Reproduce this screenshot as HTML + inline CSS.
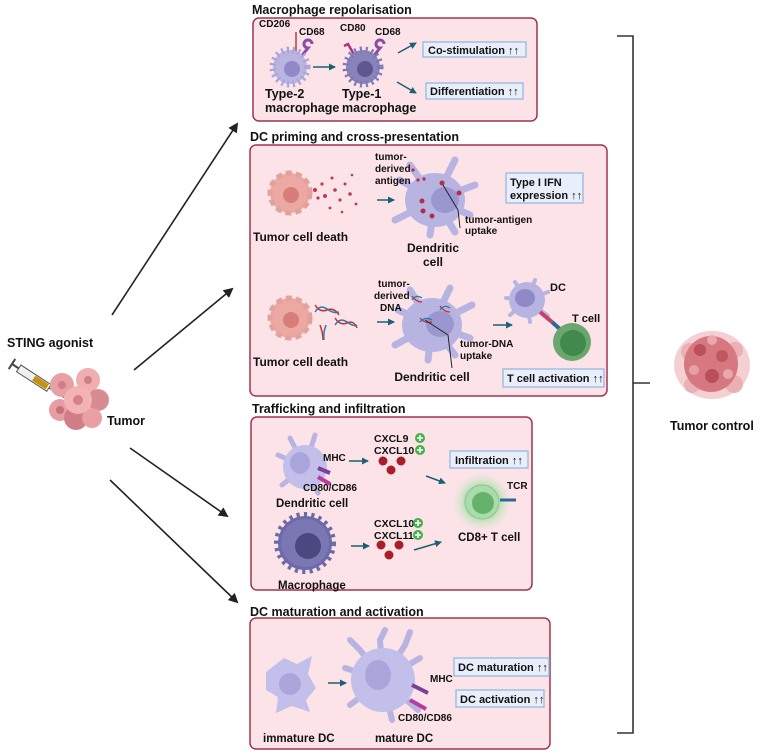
<!DOCTYPE html>
<html><head><meta charset="utf-8"><style>
html,body{margin:0;padding:0;background:#fff;}
svg{display:block;font-family:"Liberation Sans",Arial,sans-serif;font-weight:bold;}
</style></head><body>
<svg width="760" height="754" viewBox="0 0 760 754" xmlns="http://www.w3.org/2000/svg">
<defs>
<marker id="ah" markerWidth="10" markerHeight="10" refX="8" refY="5" orient="auto" markerUnits="userSpaceOnUse"><path d="M0,0 L10,5 L0,10 z" fill="#222"/></marker>
<marker id="ta" markerWidth="7" markerHeight="7" refX="6" refY="3.5" orient="auto" markerUnits="userSpaceOnUse"><path d="M0,0 L7,3.5 L0,7 z" fill="#1d5f73"/></marker>
<radialGradient id="glow"><stop offset="0.5" stop-color="#9bd89b" stop-opacity="0.8"/><stop offset="1" stop-color="#c8f0c8" stop-opacity="0"/></radialGradient>
</defs>

<g font-size="12.5" fill="#111">
<text x="252" y="14">Macrophage repolarisation</text>
<text x="250" y="141">DC priming and cross-presentation</text>
<text x="252" y="413">Trafficking and infiltration</text>
<text x="250" y="616">DC maturation and activation</text>
</g>

<g fill="#fce3e8" stroke="#a0344f" stroke-width="1.5">
<rect x="253" y="18" width="284" height="103" rx="6"/>
<rect x="250" y="145" width="357" height="251" rx="6"/>
<rect x="251" y="417" width="281" height="173" rx="6"/>
<rect x="250" y="618" width="300" height="131" rx="6"/>
</g>

<g fill="#e8eefa" stroke="#98b6e0" stroke-width="1.3">
<rect x="423" y="42" width="103" height="15"/>
<rect x="426" y="83" width="97" height="16"/>
<rect x="506" y="173" width="77" height="30"/>
<rect x="503" y="369" width="101" height="18"/>
<rect x="450" y="451" width="78" height="17"/>
<rect x="454" y="658" width="95" height="18"/>
<rect x="456" y="690" width="88" height="17"/>
</g>
<g font-size="11" fill="#111">
<text x="428" y="54">Co-stimulation ↑↑</text>
<text x="430" y="95">Differentiation ↑↑</text>
<text x="510" y="186">Type I IFN</text>
<text x="510" y="199">expression ↑↑</text>
<text x="507" y="382">T cell activation ↑↑</text>
<text x="455" y="464">Infiltration ↑↑</text>
<text x="458" y="671">DC maturation ↑↑</text>
<text x="460" y="703">DC activation ↑↑</text>
</g>

<line x1="296" y1="52" x2="296" y2="32" stroke="#b04040" stroke-width="1.5"/>
<path d="M300,58 L308,48 a4,4 0 1 1 4,-4" fill="none" stroke="#8b4aa8" stroke-width="3"/>
<circle cx="290" cy="67" r="17" fill="#b9b4e0" stroke="#a8a3d8" stroke-width="7" stroke-dasharray="2 3.5"/>
<circle cx="290" cy="67" r="14" fill="#b9b4e0"/>
<circle cx="292" cy="69" r="8" fill="#8f89c8"/>
<path d="M356,58 L348,44 l-4,2" fill="none" stroke="#b0307a" stroke-width="2.5"/>
<path d="M372,58 L380,48 a4,4 0 1 1 4,-4" fill="none" stroke="#8b4aa8" stroke-width="3"/>
<circle cx="363" cy="67" r="17" fill="#8884bb" stroke="#7d79b3" stroke-width="7" stroke-dasharray="2 3.5"/>
<circle cx="363" cy="67" r="14" fill="#8884bb"/>
<circle cx="365" cy="69" r="8" fill="#5d5890"/>
<g stroke="#1d5f73" stroke-width="1.5" marker-end="url(#ta)">
<line x1="313" y1="67" x2="335" y2="67"/>
<line x1="398" y1="53" x2="416" y2="43"/>
<line x1="397" y1="82" x2="416" y2="93"/>
</g>
<g font-size="10" fill="#111">
<text x="259" y="27">CD206</text><text x="299" y="35">CD68</text>
<text x="340" y="31">CD80</text><text x="375" y="35">CD68</text>
</g>
<g font-size="12.5" fill="#111">
<text x="265" y="98">Type-2</text><text x="265" y="112">macrophage</text>
<text x="342" y="98">Type-1</text><text x="342" y="112">macrophage</text>
</g>

<circle cx="290" cy="193" r="20" fill="#eca8a3" stroke="#e4a09a" stroke-width="5" stroke-dasharray="6 4"/>
<circle cx="291" cy="195" r="8" fill="#d97d7a"/>
<g fill="#c0394a">
<circle cx="315" cy="190" r="2"/><circle cx="322" cy="184" r="1.6"/><circle cx="325" cy="196" r="2"/><circle cx="332" cy="178" r="1.5"/><circle cx="335" cy="190" r="1.8"/><circle cx="340" cy="200" r="1.6"/><circle cx="345" cy="184" r="1.5"/><circle cx="350" cy="194" r="1.8"/><circle cx="356" cy="204" r="1.4"/><circle cx="330" cy="208" r="1.4"/><circle cx="318" cy="198" r="1.6"/><circle cx="352" cy="175" r="1.3"/><circle cx="342" cy="212" r="1.3"/>
</g>
<g stroke="#b7b4e2" stroke-width="7" stroke-linecap="round" fill="none">
<path d="M435,200 L410,165"/><path d="M435,200 L455,160"/><path d="M435,200 L475,185"/><path d="M435,200 L470,215"/><path d="M435,200 L395,220"/><path d="M435,200 L400,180"/><path d="M435,200 L430,235"/><path d="M435,200 L455,232"/>
</g>
<ellipse cx="435" cy="200" rx="30" ry="27" fill="#b7b4e2"/>
<ellipse cx="445" cy="200" rx="14" ry="13" fill="#9a96cf"/>
<g fill="#b52d45"><circle cx="442" cy="183" r="2.5"/><circle cx="422" cy="201" r="2.5"/><circle cx="423" cy="211" r="2.5"/><circle cx="432" cy="216" r="2.5"/><circle cx="459" cy="193" r="2.5"/><circle cx="413" cy="170" r="1.6"/><circle cx="418" cy="180" r="1.6"/><circle cx="424" cy="179" r="1.6"/></g>
<path d="M443,185 L458,210 L460,228" stroke="#222" fill="none" stroke-width="1"/>
<line x1="377" y1="200" x2="394" y2="200" stroke="#1d5f73" stroke-width="1.5" marker-end="url(#ta)"/>
<g font-size="10" fill="#111">
<text x="375" y="160">tumor-</text><text x="375" y="172">derived</text><text x="375" y="184">antigen</text>
<text x="465" y="223">tumor-antigen</text><text x="465" y="234">uptake</text>
</g>
<g font-size="12" fill="#111">
<text x="253" y="241">Tumor cell death</text>
<text x="433" y="252" text-anchor="middle">Dendritic</text><text x="433" y="266" text-anchor="middle">cell</text>
</g>

<circle cx="290" cy="318" r="20" fill="#eca8a3" stroke="#e4a09a" stroke-width="5" stroke-dasharray="6 4"/>
<circle cx="291" cy="320" r="8" fill="#d97d7a"/>
<g stroke-width="1.5" fill="none">
<path d="M315,305 q5,8 12,5 t12,5" stroke="#d0302a"/><path d="M315,312 q5,-8 12,-3 t12,3" stroke="#2a7ab0"/>
<path d="M335,318 q5,8 12,5 t10,5" stroke="#d0302a"/><path d="M335,325 q5,-8 12,-3 t10,3" stroke="#2a7ab0"/>
<path d="M320,325 q3,8 3,15" stroke="#d0302a"/><path d="M326,325 q-3,8 -2,15" stroke="#2a7ab0"/>
</g>
<g stroke="#b7b4e2" stroke-width="7" stroke-linecap="round" fill="none">
<path d="M432,325 L410,290"/><path d="M432,325 L450,288"/><path d="M432,325 L472,305"/><path d="M432,325 L470,338"/><path d="M432,325 L395,345"/><path d="M432,325 L398,310"/><path d="M432,325 L428,360"/><path d="M432,325 L455,355"/>
</g>
<ellipse cx="432" cy="325" rx="30" ry="27" fill="#b7b4e2"/>
<ellipse cx="440" cy="324" rx="14" ry="13" fill="#9a96cf"/>
<g stroke-width="1.3" fill="none">
<path d="M420,318 q5,6 12,4" stroke="#d0302a"/><path d="M420,322 q5,-6 12,-2" stroke="#2a7ab0"/>
<path d="M440,306 q4,6 10,6" stroke="#d0302a"/><path d="M440,310 q4,-6 10,-2" stroke="#2a7ab0"/>
<path d="M412,296 q4,6 10,6" stroke="#d0302a"/><path d="M412,300 q4,-6 10,-2" stroke="#2a7ab0"/>
</g>
<path d="M425,320 L448,335 L452,368" stroke="#222" fill="none" stroke-width="1"/>
<line x1="377" y1="322" x2="394" y2="322" stroke="#1d5f73" stroke-width="1.5" marker-end="url(#ta)"/>
<line x1="493" y1="325" x2="512" y2="325" stroke="#1d5f73" stroke-width="1.5" marker-end="url(#ta)"/>
<g font-size="10" fill="#111">
<text x="378" y="287">tumor-</text><text x="374" y="299">derived</text><text x="380" y="311">DNA</text>
<text x="460" y="347">tumor-DNA</text><text x="460" y="359">uptake</text>
</g>
<g font-size="12" fill="#111">
<text x="253" y="366">Tumor cell death</text>
<text x="432" y="381" text-anchor="middle">Dendritic cell</text>
</g>
<g stroke="#b7b4e2" stroke-width="4" stroke-linecap="round">
<line x1="527" y1="300" x2="515" y2="282"/><line x1="527" y1="300" x2="535" y2="280"/><line x1="527" y1="300" x2="548" y2="292"/><line x1="527" y1="300" x2="506" y2="298"/><line x1="527" y1="300" x2="510" y2="315"/><line x1="527" y1="300" x2="530" y2="322"/><line x1="527" y1="300" x2="548" y2="316"/>
</g>
<circle cx="527" cy="300" r="18" fill="#b7b4e2"/>
<ellipse cx="525" cy="298" rx="10" ry="9" fill="#8f8ac6"/>
<line x1="540" y1="312" x2="552" y2="322" stroke="#c8406a" stroke-width="4"/>
<line x1="552" y1="322" x2="562" y2="331" stroke="#2a6a9a" stroke-width="4"/>
<circle cx="572" cy="342" r="19" fill="#6aa66e"/>
<circle cx="573" cy="343" r="13" fill="#3f8a4c"/>
<g font-size="11" fill="#111"><text x="550" y="291">DC</text><text x="572" y="322">T cell</text></g>

<g stroke="#b7b4e2" stroke-width="5" stroke-linecap="round">
<line x1="305" y1="467" x2="290" y2="438"/><line x1="305" y1="467" x2="315" y2="435"/><line x1="305" y1="467" x2="278" y2="455"/><line x1="305" y1="467" x2="282" y2="485"/><line x1="305" y1="467" x2="318" y2="493"/>
</g>
<circle cx="305" cy="467" r="22" fill="#c2bfea"/>
<ellipse cx="300" cy="463" rx="10" ry="11" fill="#aaa6dc"/>
<line x1="318" y1="468" x2="330" y2="473" stroke="#7a3f9a" stroke-width="4"/>
<line x1="318" y1="477" x2="330" y2="484" stroke="#b83ba0" stroke-width="4"/>
<g font-size="10" fill="#111"><text x="323" y="461">MHC</text><text x="303" y="491">CD80/CD86</text></g>
<text x="276" y="507" font-size="11.5" fill="#111">Dendritic cell</text>
<circle cx="305" cy="543" r="27" fill="#6d6aa8" stroke="#6d6aa8" stroke-width="8" stroke-dasharray="3 4"/>
<circle cx="305" cy="543" r="24" fill="#7a77b2"/>
<circle cx="308" cy="546" r="13" fill="#4b4880"/>
<text x="278" y="589" font-size="11.5" fill="#111">Macrophage</text>
<g font-size="10.5" fill="#111"><text x="374" y="442">CXCL9</text><text x="374" y="454">CXCL10</text><text x="374" y="527">CXCL10</text><text x="374" y="539">CXCL11</text></g>
<g fill="#44b04a"><circle cx="420" cy="438" r="5"/><circle cx="420" cy="450" r="5"/><circle cx="418" cy="523" r="5"/><circle cx="418" cy="535" r="5"/></g>
<g stroke="#fff" stroke-width="1.6"><path d="M417,438h6M420,435v6M417,450h6M420,447v6M415,523h6M418,520v6M415,535h6M418,532v6"/></g>
<g fill="#a81e2a"><circle cx="383" cy="461" r="4.5"/><circle cx="401" cy="461" r="4.5"/><circle cx="391" cy="470" r="4.5"/><circle cx="381" cy="545" r="4.5"/><circle cx="399" cy="545" r="4.5"/><circle cx="389" cy="555" r="4.5"/></g>
<g stroke="#1d5f73" stroke-width="1.5" marker-end="url(#ta)">
<line x1="349" y1="461" x2="368" y2="461"/><line x1="426" y1="476" x2="445" y2="483"/>
<line x1="351" y1="546" x2="369" y2="546"/><line x1="414" y1="550" x2="441" y2="542"/>
</g>
<circle cx="482" cy="502" r="30" fill="url(#glow)"/>
<circle cx="482" cy="502" r="17" fill="#a8dca8" stroke="#8cc48f" stroke-width="1"/>
<circle cx="483" cy="503" r="11" fill="#66b26d"/>
<line x1="500" y1="500" x2="516" y2="500" stroke="#2a6a9a" stroke-width="3"/>
<g font-size="10" fill="#111"><text x="507" y="489">TCR</text></g>
<text x="458" y="541" font-size="11.5" fill="#111">CD8+ T cell</text>

<path d="M266,672 L284,658 L297,664 L312,656 L308,674 L316,688 L306,700 L310,712 L292,706 L276,713 L278,697 L266,690 z" fill="#c2bfea"/>
<circle cx="290" cy="684" r="11" fill="#aaa6dc"/>
<line x1="328" y1="683" x2="346" y2="683" stroke="#1d5f73" stroke-width="1.5" marker-end="url(#ta)"/>
<g stroke="#b7b4e2" stroke-width="6" stroke-linecap="round" fill="none">
<path d="M383,680 L380,640 L385,630"/><path d="M383,680 L405,645 L410,632"/><path d="M383,680 L360,650 L350,640"/><path d="M383,680 L345,668"/><path d="M383,680 L350,705"/><path d="M383,680 L392,720"/><path d="M383,680 L420,658"/><path d="M383,680 L418,710"/>
</g>
<circle cx="383" cy="680" r="32" fill="#c2bfea"/>
<ellipse cx="378" cy="675" rx="13" ry="15" fill="#aaa6dc"/>
<line x1="412" y1="685" x2="428" y2="693" stroke="#7a3f9a" stroke-width="4"/>
<line x1="410" y1="700" x2="426" y2="709" stroke="#b83ba0" stroke-width="4"/>
<g font-size="10" fill="#111"><text x="430" y="682">MHC</text><text x="398" y="721">CD80/CD86</text></g>
<g font-size="11.5" fill="#111"><text x="263" y="742">immature DC</text><text x="375" y="742">mature DC</text></g>

<text x="7" y="347" font-size="12.5" fill="#111">STING agonist</text>
<g transform="translate(12,364) rotate(33)">
<line x1="0" y1="-6" x2="0" y2="6" stroke="#444" stroke-width="2"/>
<line x1="0" y1="0" x2="8" y2="0" stroke="#444" stroke-width="2"/>
<rect x="8" y="-4" width="36" height="8" fill="#eef1f4" stroke="#555" stroke-width="1"/>
<rect x="26" y="-3" width="16" height="6" fill="#c4920e"/>
<line x1="44" y1="0" x2="62" y2="0" stroke="#555" stroke-width="1"/>
</g>
<g>
<circle cx="62" cy="385" r="12" fill="#e8a0a3"/><circle cx="88" cy="380" r="12" fill="#f0aeb0"/><circle cx="98" cy="400" r="11" fill="#d88c92"/>
<circle cx="60" cy="410" r="11" fill="#e79ea2"/><circle cx="76" cy="418" r="12" fill="#d07f88"/><circle cx="92" cy="418" r="10" fill="#e8a0a3"/>
<circle cx="78" cy="400" r="14" fill="#f3b3b5"/>
<circle cx="78" cy="400" r="5" fill="#d88088"/><circle cx="88" cy="380" r="4" fill="#d07f88"/><circle cx="60" cy="410" r="4" fill="#c87078"/><circle cx="62" cy="385" r="4" fill="#d07f88"/>
</g>
<text x="107" y="425" font-size="12.5" fill="#111">Tumor</text>

<g stroke="#222" stroke-width="1.6" marker-end="url(#ah)">
<line x1="112" y1="315" x2="237" y2="124"/>
<line x1="134" y1="370" x2="232" y2="289"/>
<line x1="130" y1="448" x2="227" y2="516"/>
<line x1="110" y1="480" x2="237" y2="602"/>
</g>

<path d="M617,36 L633,36 L633,733 L617,733 M633,383 L650,383" fill="none" stroke="#333" stroke-width="1.6"/>

<g>
<ellipse cx="712" cy="365" rx="38" ry="34" fill="#f4d0d2"/>
<circle cx="690" cy="352" r="9" fill="#eab0b4"/><circle cx="735" cy="350" r="8" fill="#eab0b4"/><circle cx="692" cy="385" r="8" fill="#eab0b4"/><circle cx="734" cy="384" r="9" fill="#eab0b4"/>
<ellipse cx="711" cy="364" rx="27" ry="28" fill="#d77880"/>
<circle cx="700" cy="350" r="6" fill="#b9505a"/><circle cx="722" cy="356" r="6" fill="#c0585f"/><circle cx="712" cy="376" r="7" fill="#b9505a"/><circle cx="694" cy="370" r="5" fill="#e3a0a5"/><circle cx="728" cy="374" r="5" fill="#e8a8ac"/><circle cx="712" cy="340" r="5" fill="#e8a8ac"/>
</g>
<text x="670" y="430" font-size="12.5" fill="#111">Tumor control</text>
</svg>
</body></html>
